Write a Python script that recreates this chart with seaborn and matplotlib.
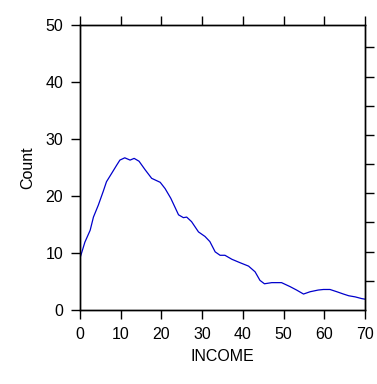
import matplotlib
matplotlib.use("Agg")
import matplotlib.pyplot as plt
import seaborn as sns
import numpy as np
import pandas as pd

income = [0.0, 1.2, 2.5, 3.3, 4.5, 5.7, 6.5, 7.8, 9.0, 9.8, 11.0, 12.3, 13.3, 14.5,
          16.0, 17.6, 19.7, 20.9, 22.3, 24.2, 25.4, 26.2, 27.4, 29.1, 30.7, 31.9,
          33.2, 34.4, 35.6, 37.3, 39.3, 41.4, 43.0, 44.2, 45.3, 47.1, 49.5, 51.6,
          53.2, 54.9, 56.5, 58.5, 59.8, 61.4, 63.1, 64.7, 66.0, 67.6, 69.2, 70.0]
count = [9.1, 11.9, 14.0, 16.3, 18.4, 20.8, 22.5, 24.0, 25.4, 26.3, 26.7, 26.3, 26.6, 26.1,
         24.6, 23.1, 22.4, 21.3, 19.6, 16.7, 16.2, 16.3, 15.5, 13.7, 12.9, 12.0,
         10.2, 9.6, 9.6, 8.9, 8.3, 7.7, 6.7, 5.2, 4.6, 4.8, 4.8, 4.1,
         3.5, 2.8, 3.2, 3.5, 3.6, 3.6, 3.2, 2.8, 2.5, 2.3, 2.0, 1.9]
total_n = 512

xticks = [0, 10, 20, 30, 40, 50, 60, 70]
yticks = [0, 10, 20, 30, 40, 50]

sns.set_style("white")
plt.rcParams['font.family'] = ['Liberation Sans', 'DejaVu Sans']
plt.rcParams['text.color'] = 'black'
plt.rcParams['axes.labelcolor'] = 'black'

df = pd.DataFrame({"INCOME": income, "Count": count})

fig = plt.figure(figsize=(3.77, 3.84), dpi=100)
ax = fig.add_axes([80/377, 74/384, 285/377, 285/384])
sns.lineplot(data=df, x="INCOME", y="Count", ax=ax, color="#0000cc", linewidth=0.9)
ax.set_xlim(0, 70)
ax.set_ylim(0, 50)
ax.set_xticks(xticks)
ax.set_yticks(yticks)
ax.tick_params(axis='both', direction='out', length=6.5, width=1, labelsize=11.5,
               colors='black', pad=5.5, top=True, bottom=True, left=True)
ax.set_xlabel("INCOME", fontsize=11.5, labelpad=5, color='black')
ax.set_ylabel("Count", fontsize=11.5, labelpad=7, color='black')
for s in ax.spines.values():
    s.set_visible(True)
    s.set_color('black')
    s.set_linewidth(1)

ax2 = ax.twinx()
ax2.set_ylim(0, 50 / total_n)
ax2.set_yticks([i / 100 for i in range(1, 10)])
ax2.set_yticklabels([])
ax2.tick_params(axis='y', direction='out', length=6.5, width=1, colors='black', right=True)
for s in ax2.spines.values():
    s.set_color('black')
    s.set_linewidth(1)

fig.savefig("out.png", dpi=100)
